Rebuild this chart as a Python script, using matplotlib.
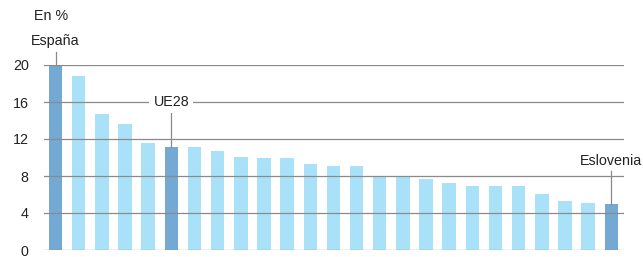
import matplotlib.pyplot as plt
import numpy as np

plt.rcParams['font.family'] = ['Liberation Sans', 'DejaVu Sans']

# values, in %
values = [20.0, 18.8, 14.7, 13.6, 11.6, 11.1, 11.1, 10.7, 10.1, 9.9, 9.9, 9.3, 9.1,
          9.1, 8.0, 7.9, 7.7, 7.2, 6.9, 6.9, 6.9, 6.1, 5.3, 5.1, 5.0]
labels = {0: "España", 5: "UE28", 24: "Eslovenia"}
yticks = [0, 4, 8, 12, 16, 20]

light = "#a9e2f8"
dark = "#74a9d4"
grid_col = "#8a8a8a"
fs = 10.3

x = np.arange(len(values))
colors = [dark if i in labels else light for i in x]

fig = plt.figure(figsize=(6.43, 2.57), dpi=100)
ax = fig.add_axes([44/643, 7/257, 580/643, 185/257])

ax.bar(x, values, width=0.58, color=colors, zorder=1)

for t in yticks:
    ax.axhline(t, color=grid_col, lw=0.9, zorder=2)

ax.set_xlim(-0.5, len(values) - 0.45)
ax.set_ylim(0, 20)
ax.set_yticks(yticks)
ax.set_xticks([])
ax.tick_params(axis='y', length=0, pad=11, labelsize=fs, labelcolor="#222222")
for s in ax.spines.values():
    s.set_visible(False)

# annotations with leader lines
txt = dict(fontsize=fs, color="#222222", ha="center", va="center")
i = 0
ax.plot([i, i], [values[i], 21.4], color=grid_col, lw=0.9, clip_on=False, zorder=3)
ax.text(i, 22.6, labels[i], clip_on=False, **txt)
ax.text(-0.95, 25.3, "En %", fontsize=fs, color="#222222", ha="left", va="center")

i = 5
ax.plot([i, i], [values[i], 14.8], color=grid_col, lw=0.9, zorder=3)
ax.text(i, 16, labels[i], zorder=4,
        bbox=dict(facecolor="white", edgecolor="none", pad=3), **txt)

i = 24
ax.plot([i, i], [values[i], 8.5], color=grid_col, lw=0.9, zorder=3)
ax.text(i, 9.6, labels[i], clip_on=False, **txt)

fig.savefig("out.png", dpi=100)
